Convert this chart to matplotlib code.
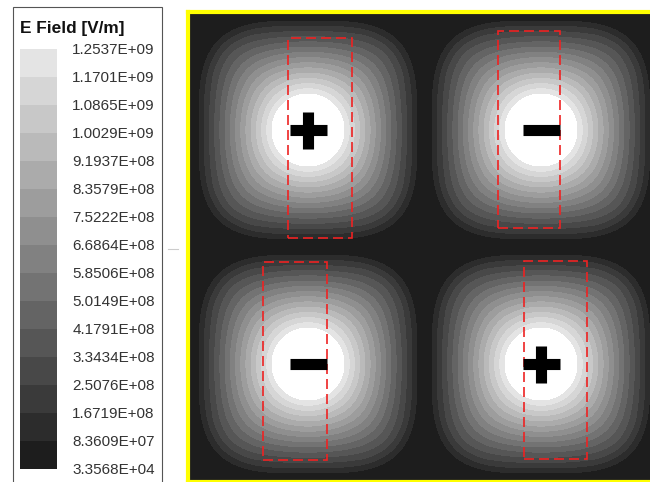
import numpy as np
import matplotlib
matplotlib.use("Agg")
import matplotlib.pyplot as plt
from matplotlib.colors import ListedColormap, BoundaryNorm
from matplotlib.cm import ScalarMappable
from matplotlib.patches import Rectangle
from matplotlib.lines import Line2D

plt.rcParams['font.family'] = ['Liberation Sans', 'DejaVu Sans']

# legend levels [V/m]
levels = [3.3568E+04, 8.3609E+07, 1.6719E+08, 2.5076E+08, 3.3434E+08,
          4.1791E+08, 5.0149E+08, 5.8506E+08, 6.6864E+08, 7.5222E+08,
          8.3579E+08, 9.1937E+08, 1.0029E+09, 1.0865E+09, 1.1701E+09,
          1.2537E+09]

# four field lobes (plot units, origin bottom-left) and their signs
lobe_x = [118, 351, 118, 351]
lobe_y = [352, 352, 118, 118]
lobe_sign = ['+', '-', '-', '+']

# radius where the field hits the top level / the first level
r_peak = 36
r_edge = 109

# red dashed boxes (x0, x1, y0, y1)
box_x0 = [98, 308, 73, 334]
box_x1 = [162, 370, 137, 397]
box_y0 = [244, 254, 22, 23]
box_y1 = [444, 451, 220, 221]

grays = [str(g) for g in np.linspace(0.115, 0.895, 15)]

fig = plt.figure(figsize=(6.5, 4.82), dpi=100)

## field plot
ax = fig.add_axes([188/650, 0, (650-188)/650, (482-12)/482])
ax.set_xlim(-2, 460)
ax.set_ylim(0, 470)

xg = np.linspace(-2, 460, 500)
yg = np.linspace(0, 470, 500)
X, Y = np.meshgrid(xg, yg)

slope = (levels[-1] - levels[1]) / (r_edge - r_peak)
top = levels[-1] + r_peak * slope
Z = np.full(X.shape, levels[0])
for cx, cy in zip(lobe_x, lobe_y):
    dx = np.abs(X - cx)
    dy = np.abs(Y - cy)
    de = np.hypot(dx, dy)
    dq = (dx ** 3.5 + dy ** 3.5) ** (1 / 3.5)
    w = np.clip((de - 35) / 75, 0, 1)
    d = (1 - w) * de + w * dq
    Z = np.maximum(Z, top - slope * d)
Z = np.maximum(Z, levels[0] * 1.01)

cmap = ListedColormap(grays)
cmap.set_over('white')
norm = BoundaryNorm(levels, cmap.N)
ax.contourf(X, Y, Z, levels=levels, cmap=cmap, norm=norm, extend='max')

for x0, x1, y0, y1 in zip(box_x0, box_x1, box_y0, box_y1):
    ax.add_patch(Rectangle((x0, y0), x1 - x0, y1 - y0, fill=False,
                           ec='#ee2222', lw=1.2, ls=(0, (6, 3))))

for cx, cy, s in zip(lobe_x, lobe_y, lobe_sign):
    ax.plot([cx - 18.5, cx + 18.5], [cy, cy], color='black', lw=8,
            solid_capstyle='butt')
    if s == '+':
        ax.plot([cx, cx], [cy - 18.5, cy + 18.5], color='black', lw=8,
                solid_capstyle='butt')

ax.set_xticks([])
ax.set_yticks([])
for side in ['left', 'top', 'bottom']:
    ax.spines[side].set_color('#ffff00')
    ax.spines[side].set_linewidth(3)
ax.spines['right'].set_visible(False)

## colour key
cax = fig.add_axes([20/650, 1 - 469/482, 37/650, 420/482])
cb = fig.colorbar(ScalarMappable(norm=norm, cmap=cmap), cax=cax,
                  ticks=levels, spacing='uniform')
cb.outline.set_visible(False)
cb.set_ticklabels(['%.4E' % v for v in levels])
cax.tick_params(length=0, pad=11, labelsize=11, labelcolor='#333333')

fig.text(20/650, 1 - 29/482, 'E Field [V/m]', fontsize=12.4,
         weight='bold', va='center', ha='left', color='#111111')

fig.add_artist(Rectangle((13/650, -0.01), (162-13)/650, (482-7)/482 + 0.01,
                         transform=fig.transFigure, fill=False,
                         ec='#555555', lw=0.8))
fig.add_artist(Line2D([168/650, 178/650], [1 - 249/482] * 2,
                      transform=fig.transFigure, color='#cccccc', lw=0.8))

plt.savefig("out.png", dpi=100)
plt.close()
